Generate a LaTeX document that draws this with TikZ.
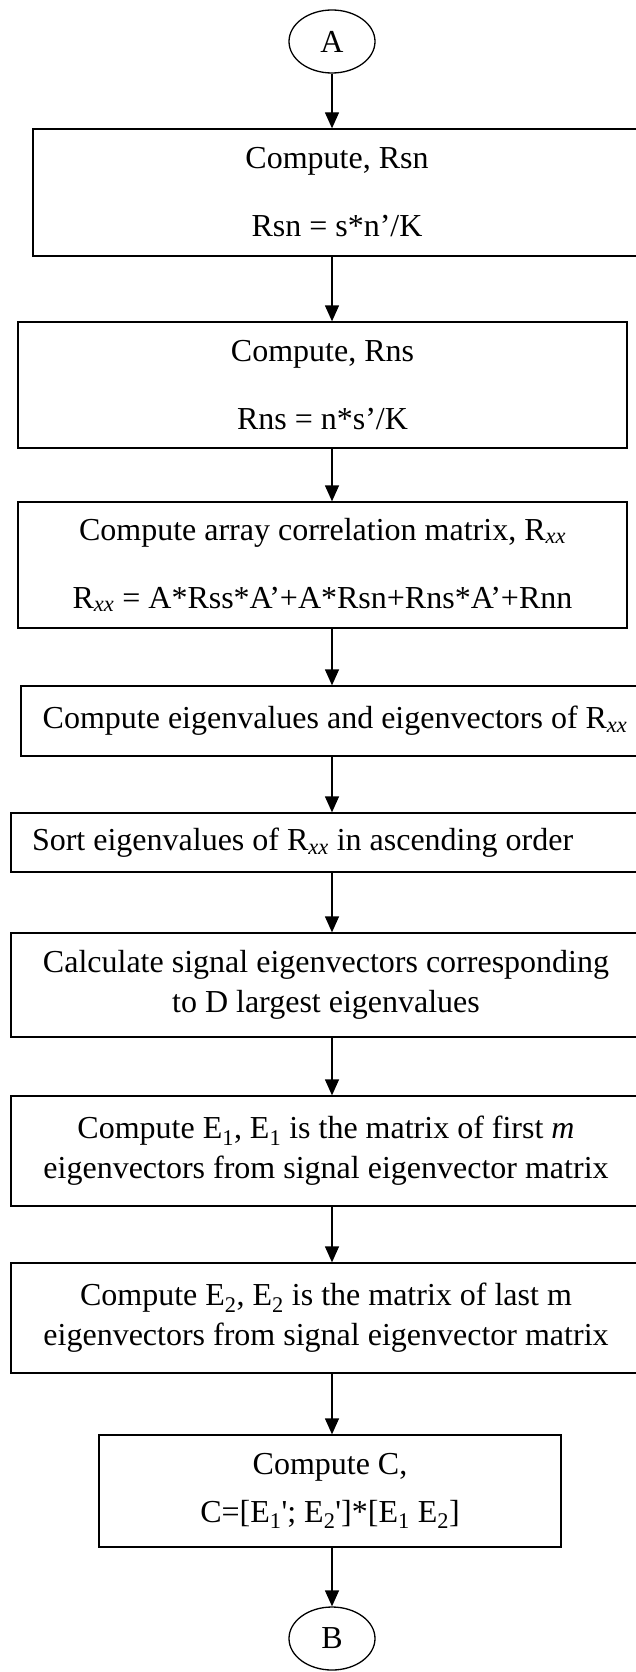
\documentclass[tikz,border=0pt]{standalone}
\usepackage{fontspec}
\setmainfont{Liberation Serif}
\usetikzlibrary{shapes,arrows.meta}

\begin{document}
\begin{tikzpicture}[x=1pt,y=-1pt,>={Triangle[length=16pt,width=14pt]},line width=1.3pt]

	\tikzstyle{process}=[draw,rectangle,align=center,inner sep=0pt,font=\fontsize{32}{40}\selectfont]
	\tikzstyle{connector}=[draw,ellipse,minimum width=86pt,minimum height=63pt,inner sep=0pt,font=\fontsize{32}{40}\selectfont]

	\clip (0,0) rectangle (636,1672);

	\node[connector] (A) at (332,41.5) {A};

	\node[process,minimum width=608pt,minimum height=127pt] (rsn) at (337,192.5) {Compute, Rsn\\[28pt]Rsn = s*n’/K};
	\node[process,minimum width=609pt,minimum height=126pt] (rns) at (322.5,385) {Compute, Rns\\[28pt]Rns = n*s’/K};
	\node[process,minimum width=609pt,minimum height=126pt] (rxx) at (322.5,565) {Compute array correlation matrix, R\textsubscript{\textit{xx}}\\[28pt]R\textsubscript{\textit{xx}} = A*Rss*A’+A*Rsn+Rns*A’+Rnn};
	\node[process,minimum width=628pt,minimum height=70pt] (eig) at (335,721) {Compute eigenvalues and eigenvectors of R\textsubscript{\textit{xx}}};
	\node[process,align=flush left,text width=588pt,inner xsep=21pt,minimum height=59pt] (sort) at (326,842.5) {Sort eigenvalues of R\textsubscript{\textit{xx}} in ascending order};
	\node[process,minimum width=630pt,minimum height=104pt] (sig) at (326,985) {Calculate signal eigenvectors corresponding\\to D largest eigenvalues};
	\node[process,minimum width=630pt,minimum height=110pt] (e1) at (326,1151) {Compute E\textsubscript{1}, E\textsubscript{1} is the matrix of first \textit{m}\\eigenvectors from signal eigenvector matrix};
	\node[process,minimum width=630pt,minimum height=110pt] (e2) at (326,1318) {Compute E\textsubscript{2}, E\textsubscript{2} is the matrix of last m\\eigenvectors from signal eigenvector matrix};
	\node[process,minimum width=462pt,minimum height=112pt] (cmat) at (330,1491) {Compute C,\\[8pt]C=[E\textsubscript{1}\textquotesingle; E\textsubscript{2}\textquotesingle]*[E\textsubscript{1} E\textsubscript{2}]};

	\node[connector] (B) at (332,1638.5) {B};

	\draw[->] (A) -- (A |- rsn.north);
	\draw[->] (rsn.south -| A) -- (rns.north -| A);
	\draw[->] (rns.south -| A) -- (rxx.north -| A);
	\draw[->] (rxx.south -| A) -- (eig.north -| A);
	\draw[->] (eig.south -| A) -- (sort.north -| A);
	\draw[->] (sort.south -| A) -- (sig.north -| A);
	\draw[->] (sig.south -| A) -- (e1.north -| A);
	\draw[->] (e1.south -| A) -- (e2.north -| A);
	\draw[->] (e2.south -| A) -- (cmat.north -| A);
	\draw[->] (cmat.south -| A) -- (B);

\end{tikzpicture}
\end{document}
